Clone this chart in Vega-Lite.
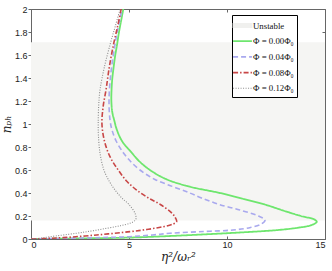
{
  "$schema": "https://vega.github.io/schema/vega-lite/v6.json",
  "width": 294,
  "height": 230,
  "autosize": {"type": "none"},
  "padding": {"left": 31, "top": 9, "right": 7, "bottom": 32},
  "background": "white",
  "config": {
    "view": {"stroke": "#666666", "strokeWidth": 1},
    "axis": {
      "domainColor": "#666666",
      "tickColor": "#666666",
      "labelFont": "Liberation Sans",
      "labelFontSize": 9,
      "labelColor": "#222222",
      "grid": false,
      "titleFont": "DejaVu Serif",
      "titleFontStyle": "italic",
      "titleFontWeight": "normal",
      "titleFontSize": 12,
      "titleColor": "#222222"
    }
  },
  "datasets": {
    "band": [{"x1": 0, "x2": 15, "y1": 0.16, "y2": 1.71}],
    "curves": [
      {"s": "Φ = 0.00Φ₀", "y": 0, "x": 0},
      {"s": "Φ = 0.00Φ₀", "y": 0.005, "x": 2.5},
      {"s": "Φ = 0.00Φ₀", "y": 0.012, "x": 5.0},
      {"s": "Φ = 0.00Φ₀", "y": 0.026, "x": 7.1},
      {"s": "Φ = 0.00Φ₀", "y": 0.04, "x": 8.8},
      {"s": "Φ = 0.00Φ₀", "y": 0.055, "x": 10.5},
      {"s": "Φ = 0.00Φ₀", "y": 0.078, "x": 12.6},
      {"s": "Φ = 0.00Φ₀", "y": 0.1, "x": 13.7},
      {"s": "Φ = 0.00Φ₀", "y": 0.12, "x": 14.3},
      {"s": "Φ = 0.00Φ₀", "y": 0.15, "x": 14.58},
      {"s": "Φ = 0.00Φ₀", "y": 0.175, "x": 14.4},
      {"s": "Φ = 0.00Φ₀", "y": 0.194, "x": 13.9},
      {"s": "Φ = 0.00Φ₀", "y": 0.24, "x": 13.0},
      {"s": "Φ = 0.00Φ₀", "y": 0.296, "x": 12.0},
      {"s": "Φ = 0.00Φ₀", "y": 0.35, "x": 10.8},
      {"s": "Φ = 0.00Φ₀", "y": 0.4, "x": 9.64},
      {"s": "Φ = 0.00Φ₀", "y": 0.455, "x": 8.1},
      {"s": "Φ = 0.00Φ₀", "y": 0.52, "x": 6.9},
      {"s": "Φ = 0.00Φ₀", "y": 0.6, "x": 6.07},
      {"s": "Φ = 0.00Φ₀", "y": 0.68, "x": 5.5},
      {"s": "Φ = 0.00Φ₀", "y": 0.75, "x": 5.14},
      {"s": "Φ = 0.00Φ₀", "y": 0.85, "x": 4.65},
      {"s": "Φ = 0.00Φ₀", "y": 0.95, "x": 4.38},
      {"s": "Φ = 0.00Φ₀", "y": 1.03, "x": 4.25},
      {"s": "Φ = 0.00Φ₀", "y": 1.1, "x": 4.15},
      {"s": "Φ = 0.00Φ₀", "y": 1.2, "x": 4.1},
      {"s": "Φ = 0.00Φ₀", "y": 1.3, "x": 4.11},
      {"s": "Φ = 0.00Φ₀", "y": 1.4, "x": 4.15},
      {"s": "Φ = 0.00Φ₀", "y": 1.5, "x": 4.22},
      {"s": "Φ = 0.00Φ₀", "y": 1.6, "x": 4.3},
      {"s": "Φ = 0.00Φ₀", "y": 1.7, "x": 4.4},
      {"s": "Φ = 0.00Φ₀", "y": 1.8, "x": 4.49},
      {"s": "Φ = 0.00Φ₀", "y": 1.9, "x": 4.6},
      {"s": "Φ = 0.00Φ₀", "y": 2.0, "x": 4.71},
      {"s": "Φ = 0.04Φ₀", "y": 0, "x": 0},
      {"s": "Φ = 0.04Φ₀", "y": 0.005, "x": 1.5},
      {"s": "Φ = 0.04Φ₀", "y": 0.012, "x": 3.5},
      {"s": "Φ = 0.04Φ₀", "y": 0.02, "x": 5.0},
      {"s": "Φ = 0.04Φ₀", "y": 0.035, "x": 6.2},
      {"s": "Φ = 0.04Φ₀", "y": 0.05, "x": 7.1},
      {"s": "Φ = 0.04Φ₀", "y": 0.065, "x": 8.8},
      {"s": "Φ = 0.04Φ₀", "y": 0.078, "x": 10.3},
      {"s": "Φ = 0.04Φ₀", "y": 0.1, "x": 11.2},
      {"s": "Φ = 0.04Φ₀", "y": 0.13, "x": 11.75},
      {"s": "Φ = 0.04Φ₀", "y": 0.165, "x": 11.94},
      {"s": "Φ = 0.04Φ₀", "y": 0.2, "x": 11.6},
      {"s": "Φ = 0.04Φ₀", "y": 0.252, "x": 10.66},
      {"s": "Φ = 0.04Φ₀", "y": 0.3, "x": 9.6},
      {"s": "Φ = 0.04Φ₀", "y": 0.357, "x": 8.7},
      {"s": "Φ = 0.04Φ₀", "y": 0.4, "x": 8.1},
      {"s": "Φ = 0.04Φ₀", "y": 0.455, "x": 7.25},
      {"s": "Φ = 0.04Φ₀", "y": 0.52, "x": 6.3},
      {"s": "Φ = 0.04Φ₀", "y": 0.6, "x": 5.56},
      {"s": "Φ = 0.04Φ₀", "y": 0.68, "x": 5.05},
      {"s": "Φ = 0.04Φ₀", "y": 0.75, "x": 4.71},
      {"s": "Φ = 0.04Φ₀", "y": 0.85, "x": 4.35},
      {"s": "Φ = 0.04Φ₀", "y": 0.95, "x": 4.13},
      {"s": "Φ = 0.04Φ₀", "y": 1.035, "x": 4.03},
      {"s": "Φ = 0.04Φ₀", "y": 1.2, "x": 3.98},
      {"s": "Φ = 0.04Φ₀", "y": 1.4, "x": 4.05},
      {"s": "Φ = 0.04Φ₀", "y": 1.6, "x": 4.2},
      {"s": "Φ = 0.04Φ₀", "y": 1.8, "x": 4.4},
      {"s": "Φ = 0.04Φ₀", "y": 2.0, "x": 4.65},
      {"s": "Φ = 0.08Φ₀", "y": 0, "x": 0},
      {"s": "Φ = 0.08Φ₀", "y": 0.005, "x": 0.8},
      {"s": "Φ = 0.08Φ₀", "y": 0.012, "x": 1.65},
      {"s": "Φ = 0.08Φ₀", "y": 0.035, "x": 3.35},
      {"s": "Φ = 0.08Φ₀", "y": 0.064, "x": 5.05},
      {"s": "Φ = 0.08Φ₀", "y": 0.085, "x": 6.0},
      {"s": "Φ = 0.08Φ₀", "y": 0.107, "x": 6.75},
      {"s": "Φ = 0.08Φ₀", "y": 0.13, "x": 7.25},
      {"s": "Φ = 0.08Φ₀", "y": 0.15, "x": 7.43},
      {"s": "Φ = 0.08Φ₀", "y": 0.18, "x": 7.38},
      {"s": "Φ = 0.08Φ₀", "y": 0.223, "x": 7.2},
      {"s": "Φ = 0.08Φ₀", "y": 0.3, "x": 6.6},
      {"s": "Φ = 0.08Φ₀", "y": 0.357, "x": 5.99},
      {"s": "Φ = 0.08Φ₀", "y": 0.426, "x": 5.39},
      {"s": "Φ = 0.08Φ₀", "y": 0.5, "x": 4.9},
      {"s": "Φ = 0.08Φ₀", "y": 0.6, "x": 4.45},
      {"s": "Φ = 0.08Φ₀", "y": 0.716, "x": 4.03},
      {"s": "Φ = 0.08Φ₀", "y": 0.85, "x": 3.75},
      {"s": "Φ = 0.08Φ₀", "y": 1.0, "x": 3.62},
      {"s": "Φ = 0.08Φ₀", "y": 1.15, "x": 3.68},
      {"s": "Φ = 0.08Φ₀", "y": 1.3, "x": 3.83},
      {"s": "Φ = 0.08Φ₀", "y": 1.5, "x": 4.0},
      {"s": "Φ = 0.08Φ₀", "y": 1.7, "x": 4.22},
      {"s": "Φ = 0.08Φ₀", "y": 1.85, "x": 4.42},
      {"s": "Φ = 0.08Φ₀", "y": 2.0, "x": 4.6},
      {"s": "Φ = 0.12Φ₀", "y": 0, "x": 0},
      {"s": "Φ = 0.12Φ₀", "y": 0.008, "x": 0.5},
      {"s": "Φ = 0.12Φ₀", "y": 0.02, "x": 0.97},
      {"s": "Φ = 0.12Φ₀", "y": 0.05, "x": 2.33},
      {"s": "Φ = 0.12Φ₀", "y": 0.07, "x": 3.1},
      {"s": "Φ = 0.12Φ₀", "y": 0.093, "x": 3.86},
      {"s": "Φ = 0.12Φ₀", "y": 0.115, "x": 4.55},
      {"s": "Φ = 0.12Φ₀", "y": 0.137, "x": 5.05},
      {"s": "Φ = 0.12Φ₀", "y": 0.16, "x": 5.3},
      {"s": "Φ = 0.12Φ₀", "y": 0.18, "x": 5.36},
      {"s": "Φ = 0.12Φ₀", "y": 0.223, "x": 5.31},
      {"s": "Φ = 0.12Φ₀", "y": 0.3, "x": 5.0},
      {"s": "Φ = 0.12Φ₀", "y": 0.357, "x": 4.63},
      {"s": "Φ = 0.12Φ₀", "y": 0.426, "x": 4.29},
      {"s": "Φ = 0.12Φ₀", "y": 0.5, "x": 4.0},
      {"s": "Φ = 0.12Φ₀", "y": 0.6, "x": 3.72},
      {"s": "Φ = 0.12Φ₀", "y": 0.748, "x": 3.52},
      {"s": "Φ = 0.12Φ₀", "y": 0.9, "x": 3.44},
      {"s": "Φ = 0.12Φ₀", "y": 1.006, "x": 3.43},
      {"s": "Φ = 0.12Φ₀", "y": 1.15, "x": 3.45},
      {"s": "Φ = 0.12Φ₀", "y": 1.296, "x": 3.52},
      {"s": "Φ = 0.12Φ₀", "y": 1.5, "x": 3.75},
      {"s": "Φ = 0.12Φ₀", "y": 1.7, "x": 4.05},
      {"s": "Φ = 0.12Φ₀", "y": 1.85, "x": 4.3},
      {"s": "Φ = 0.12Φ₀", "y": 2.0, "x": 4.55}
    ]
  },
  "layer": [
    {
      "data": {"name": "band"},
      "mark": {"type": "rect", "fill": "#f5f5f3", "stroke": null},
      "encoding": {
        "x": {"field": "x1", "type": "quantitative", "scale": {"domain": [0, 15], "nice": false},
              "axis": {"orient": "top", "values": [0, 5, 10, 15], "labels": false, "title": null, "tickSize": -3, "domain": false}},
        "x2": {"field": "x2"},
        "y": {"field": "y1", "type": "quantitative", "scale": {"domain": [0, 2], "nice": false},
              "axis": {"orient": "right", "values": [0, 0.2, 0.4, 0.6, 0.8, 1, 1.2, 1.4, 1.6, 1.8, 2], "labels": false, "title": null, "tickSize": -3, "domain": false}},
        "y2": {"field": "y2"}
      }
    },
    {
      "data": {"name": "curves"},
      "mark": {"type": "line", "interpolate": "catmull-rom", "clip": true},
      "encoding": {
        "x": {"field": "x", "type": "quantitative", "scale": {"domain": [0, 15], "nice": false},
              "axis": {"orient": "bottom", "values": [0, 5, 10, 15], "format": "~g", "title": "η²/ωᵣ²", "tickSize": -3, "labelPadding": 4, "titlePadding": 2}},
        "y": {"field": "y", "type": "quantitative", "scale": {"domain": [0, 2], "nice": false},
              "axis": {"orient": "left", "values": [0, 0.2, 0.4, 0.6, 0.8, 1, 1.2, 1.4, 1.6, 1.8, 2], "format": "~g", "title": "nₚₕ", "tickSize": 3, "labelPadding": 1, "titleX": -18, "titleY": 115, "titleAngle": -90, "titleBaseline": "bottom", "titleAlign": "center"}},
        "order": {"field": "y", "type": "quantitative"},
        "color": {
          "field": "s", "type": "nominal",
          "scale": {
            "domain": ["Unstable", "Φ = 0.00Φ₀", "Φ = 0.04Φ₀", "Φ = 0.08Φ₀", "Φ = 0.12Φ₀"],
            "range": ["#f0f0ee", "#6ee66e", "#a9a9ee", "#c84646", "#8c8c8c"]
          },
          "legend": {
            "title": null,
            "orient": "none",
            "legendX": 201,
            "legendY": 6,
            "strokeColor": "#000000",
            "fillColor": "#ffffff",
            "padding": 3,
            "rowPadding": 2.7,
            "symbolType": "M-1.45,0H1.45",
            "symbolSize": 169,
            "symbolStrokeWidth": 1.6,
            "labelFont": "Liberation Serif",
            "labelFontSize": 8.8,
            "labelColor": "#111111",
            "labelOffset": 3,
            "encode": {
              "symbols": {
                "update": {
                  "shape": {"signal": "datum.value === 'Unstable' ? 'M-1.4,-0.27H1.4V0.27H-1.4Z' : 'M-1.45,0H1.45'"},
                  "fill": {"signal": "datum.value === 'Unstable' ? '#f0f0ee' : 'transparent'"}
                }
              }
            }
          }
        },
        "strokeDash": {
          "field": "s", "type": "nominal",
          "scale": {
            "domain": ["Unstable", "Φ = 0.00Φ₀", "Φ = 0.04Φ₀", "Φ = 0.08Φ₀", "Φ = 0.12Φ₀"],
            "range": [[1, 0], [1, 0], [5, 3], [5, 2, 1.5, 2], [1, 1.5]]
          },
          "legend": {"title": null}
        },
        "strokeWidth": {
          "field": "s", "type": "nominal",
          "scale": {
            "type": "ordinal",
            "domain": ["Unstable", "Φ = 0.00Φ₀", "Φ = 0.04Φ₀", "Φ = 0.08Φ₀", "Φ = 0.12Φ₀"],
            "range": [1.6, 1.8, 1.6, 1.6, 1.1]
          },
          "legend": null
        }
      }
    }
  ],
  "resolve": {"axis": {"x": "independent", "y": "independent"}}
}
